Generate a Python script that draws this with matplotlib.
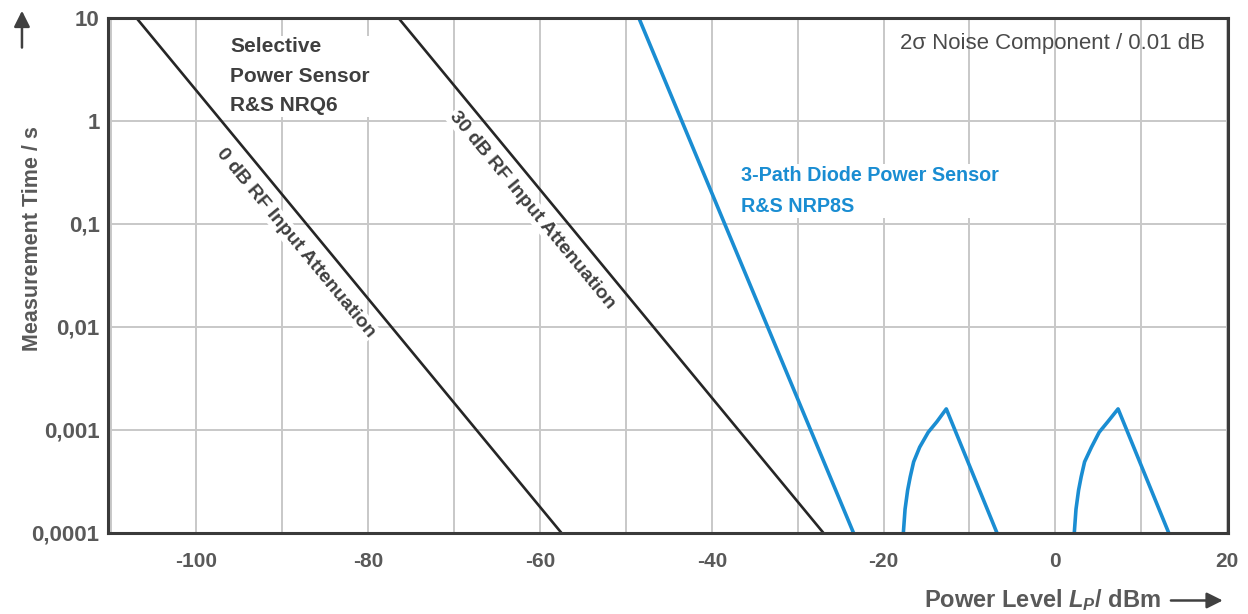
"""Measurement time vs. power level for the NRQ6 selective power sensor
and the NRP8S 3-path diode power sensor.

"""
from matplotlib import pyplot as plt, rcParams
from matplotlib.ticker import MultipleLocator, NullLocator

rcParams['font.family'] = ['Liberation Sans', 'DejaVu Sans']
rcParams['mathtext.fontset'] = 'custom'
rcParams['mathtext.rm'] = 'Liberation Sans:bold'
rcParams['mathtext.it'] = 'Liberation Sans:italic:bold'
rcParams['axes.unicode_minus'] = False

BLUE = '#1a8dd2'
DARK = '#262626'
TEXT = '#595959'
GRID = '#c8c8c8'

nrq6_0db_level = [-107.0, -57.5]
nrq6_0db_time = [10, 1e-4]
nrq6_30db_level = [-76.5, -27.0]
nrq6_30db_time = [10, 1e-4]
nrp8s_level = [-48.5, -23.5]
nrp8s_time = [10, 1e-4]
# Path switching humps of the NRP8S
hump1_level = [-17.7, -17.5, -17.2, -16.9, -16.5, -15.8, -14.8, -13.8, -12.7, -6.8]
hump2_level = [2.2, 2.4, 2.7, 3.0, 3.4, 4.2, 5.1, 6.1, 7.3, 13.2]
hump_time = [1e-4, 1.7e-4, 2.6e-4, 3.5e-4, 4.9e-4, 6.8e-4, 9.5e-4, 1.2e-3, 1.6e-3, 1e-4]

x_ticks = [-100, -80, -60, -40, -20, 0, 20]
y_ticks = [1e-4, 1e-3, 1e-2, 0.1, 1, 10]
y_tick_labels = ['0,0001', '0,001', '0,01', '0,1', '1', '10']

fig = plt.figure(figsize=(12.48, 6.14), dpi=100)
ax = fig.add_axes([0.0865, 0.132, 0.8975, 0.839])

ax.plot(nrq6_0db_level, nrq6_0db_time, color=DARK, lw=1.9, zorder=3)
ax.plot(nrq6_30db_level, nrq6_30db_time, color=DARK, lw=1.9, zorder=3)
ax.plot(nrp8s_level, nrp8s_time, color=BLUE, lw=2.6, zorder=3)
ax.plot(hump1_level, hump_time, color=BLUE, lw=2.6, zorder=3)
ax.plot(hump2_level, hump_time, color=BLUE, lw=2.6, zorder=3)

ax.set_yscale('log')
ax.set_xlim(-110.3, 20.1)
ax.set_ylim(1e-4, 10)
ax.set_xticks(x_ticks)
ax.xaxis.set_minor_locator(MultipleLocator(10))
ax.set_yticks(y_ticks, y_tick_labels)
ax.yaxis.set_minor_locator(NullLocator())
ax.grid(True, which='both', axis='x', color=GRID, lw=1.4, zorder=0)
ax.grid(True, which='major', axis='y', color=GRID, lw=1.4, zorder=0)
ax.set_axisbelow(True)
ax.tick_params(which='both', length=0, labelcolor=TEXT)
ax.tick_params(axis='x', pad=14, labelsize=15)
ax.tick_params(axis='y', pad=6, labelsize=16)
for lab in ax.get_xticklabels() + ax.get_yticklabels():
    lab.set_fontweight('bold')
for sp in ax.spines.values():
    sp.set_color('#3a3a3a')
    sp.set_linewidth(2.2)
    sp.set_zorder(4)

white = dict(facecolor='white', edgecolor='none', pad=1)
ax.text(0.109, 0.962, "Selective\nPower Sensor\nR&S NRQ6", transform=ax.transAxes,
        ha='left', va='top', fontsize=15, fontweight='bold', color='#3f3f3f',
        linespacing=1.7, bbox=white, zorder=2)
ax.text(0.168, 0.563, "0 dB RF Input Attenuation", transform=ax.transAxes,
        ha='center', va='center', rotation=-50.5, fontsize=14,
        fontweight='bold', color='#3f3f3f', bbox=white, zorder=2)
ax.text(0.379, 0.627, "30 dB RF Input Attenuation", transform=ax.transAxes,
        ha='center', va='center', rotation=-50.5, fontsize=14,
        fontweight='bold', color='#3f3f3f', bbox=white, zorder=2)
ax.text(0.565, 0.713, "3-Path Diode Power Sensor\nR&S NRP8S", transform=ax.transAxes,
        ha='left', va='top', fontsize=14.2, fontweight='bold', color=BLUE,
        linespacing=1.85, bbox=white, zorder=2)
ax.text(0.979, 0.950, "2σ Noise Component / 0.01 dB", transform=ax.transAxes,
        ha='right', va='center', fontsize=16, color='#4a4a4a', zorder=2)

# Axis titles with arrows
fig.text(0.026, 0.612, "Measurement Time / s", rotation=90, ha='center',
         va='center', fontsize=15.5, fontweight='bold', color=TEXT)
fig.text(0.930, 0.022, "Power Level $L_P$/ dBm", ha='right', va='center',
         fontsize=17, fontweight='bold', color=TEXT)
arrow = dict(arrowstyle='-|>', color='#404040', lw=1.8, mutation_scale=24)
ax.annotate('', xy=(0.0176, 0.987), xytext=(0.0176, 0.918),
            xycoords='figure fraction', textcoords='figure fraction',
            arrowprops=arrow)
ax.annotate('', xy=(0.982, 0.022), xytext=(0.936, 0.022),
            xycoords='figure fraction', textcoords='figure fraction',
            arrowprops=arrow)

fig.savefig('out.png', dpi=100)
